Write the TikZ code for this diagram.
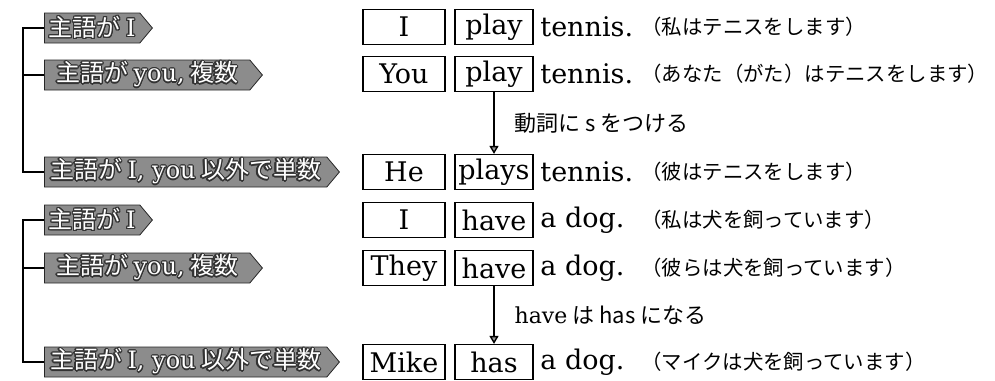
\documentclass[tikz,border=0pt]{standalone}
\usepackage{fontspec}
\setmainfont{DejaVu Serif}
\newfontfamily\jp{Noto Sans CJK JP}
\usepackage{contour}
\contourlength{0.6pt}
\usetikzlibrary{shapes.symbols,arrows.meta}
\tikzset{
  tag/.style={signal, signal to=east, signal pointer angle=100, draw=black!85, fill=black!45,
    text=white, minimum height=15pt, inner sep=0pt, anchor=west,
    font=\jp\fontsize{12}{12}\selectfont},
  word/.style={draw, line width=0.6pt, minimum height=17.5pt, inner sep=0pt,
    font=\fontsize{13.5}{13.5}\selectfont},
  subj/.style={word, minimum width=41pt},
  verb/.style={word, minimum width=39pt},
  rest/.style={anchor=west, inner sep=0pt, font=\fontsize{13.5}{13.5}\selectfont},
  gloss/.style={anchor=west, inner sep=0pt, font=\jp\fontsize{10.2}{10.2}\selectfont},
  note/.style={anchor=west, inner sep=0pt, font=\jp\fontsize{11}{11}\selectfont},
  arr/.style={-{Triangle[length=4pt, width=4.5pt, fill=black!40]}, line width=0.7pt}
}
\begin{document}
\begin{tikzpicture}[x=0.5pt, y=-0.5pt]
        \useasboundingbox (0, 0) rectangle (995, 380);
        \coordinate (b1) at (23, 0);
        % first group: play
        \node[tag, minimum width=54pt](s1) at (44, 28){\contour{black!80}{主語が {\rmfamily I}}};
        \node[tag, minimum width=109pt](s2) at (44, 75){\contour{black!80}{主語が {\rmfamily you,} 複数}};
        \node[tag, minimum width=147.5pt](s3) at (44, 172){\contour{black!80}{主語が {\rmfamily I, you} 以外で単数}};
        \draw[line width=0.6pt](s1.west) -- (s1.west -| b1) |- (s3.west);
        \draw[line width=0.6pt](s2.west) -- (s2.west -| b1);

        \node[subj](p1) at (404, 27){I};
        \node[verb](v1) at (494, 27){play};
        \node[rest](r1) at (540, 27){tennis.};
        \node[gloss](g1) at (641, 27){（私はテニスをします）};

        \node[subj](p2) at (404, 74){You};
        \node[verb](v2) at (494, 74){play};
        \node[rest](r2) at (540, 74){tennis.};
        \node[gloss](g2) at (641, 74){（あなた（がた）はテニスをします）};

        \node[subj](p3) at (404, 172){He};
        \node[verb](v3) at (494, 172){plays};
        \node[rest](r3) at (540, 172){tennis.};
        \node[gloss](g3) at (641, 172){（彼はテニスをします）};

        \draw[arr](v2.south) -- node[note, right=10pt](n1){動詞に s をつける} (v3.north);

        % second group: have
        \node[tag, minimum width=54pt](t1) at (44, 220){\contour{black!80}{主語が {\rmfamily I}}};
        \node[tag, minimum width=109pt](t2) at (44, 268){\contour{black!80}{主語が {\rmfamily you,} 複数}};
        \node[tag, minimum width=147.5pt](t3) at (44, 362){\contour{black!80}{主語が {\rmfamily I, you} 以外で単数}};
        \draw[line width=0.6pt](t1.west) -- (t1.west -| b1) |- (t3.west);
        \draw[line width=0.6pt](t2.west) -- (t2.west -| b1);

        \node[subj](p4) at (404, 220){I};
        \node[verb](v4) at (494, 220){have};
        \node[rest](r4) at (540, 220){a dog.};
        \node[gloss](g4) at (641, 220){（私は犬を飼っています）};

        \node[subj](p5) at (404, 268){They};
        \node[verb](v5) at (494, 268){have};
        \node[rest](r5) at (540, 268){a dog.};
        \node[gloss](g5) at (641, 268){（彼らは犬を飼っています）};

        \node[subj](p6) at (404, 362){Mike};
        \node[verb](v6) at (494, 362){has};
        \node[rest](r6) at (540, 362){a dog.};
        \node[gloss](g6) at (641, 362){（マイクは犬を飼っています）};

        \draw[arr](v5.south) -- node[note, right=10pt](n2){{\rmfamily have} は has になる} (v6.north);
\end{tikzpicture}
\end{document}
